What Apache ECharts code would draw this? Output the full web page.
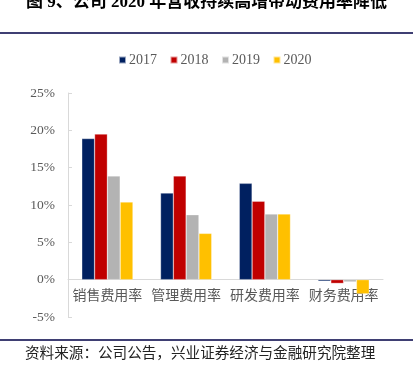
<!DOCTYPE html>
<html><head><meta charset="utf-8">
<script src="https://cdn.jsdelivr.net/npm/echarts@6/dist/echarts.min.js"></script>
<style>html,body{margin:0;padding:0;background:#fff}#c{width:413px;height:374px}</style>
</head><body><div id="c"></div>
<script>
const categories = ['销售费用率', '管理费用率', '研发费用率', '财务费用率'];
const years = ['2017', '2018', '2019', '2020'];
const v2017 = [18.9, 11.6, 12.9, -0.2];
const v2018 = [19.5, 13.9, 10.5, -0.5];
const v2019 = [13.9, 8.7, 8.8, -0.3];
const v2020 = [10.4, 6.2, 8.8, -1.9];
const colors = ['#002060', '#C00000', '#B3B3B3', '#FFC000'];
const titleText = '图 9、公司 2020 年营收持续高增带动费用率降低';
const sourceText = '资料来源：公司公告，兴业证券经济与金融研究院整理';

const serif = '"Liberation Serif", "Noto Sans CJK SC", serif';
const chart = echarts.init(document.getElementById('c'), null, {renderer: 'canvas'});
const vals = [v2017, v2018, v2019, v2020];
chart.setOption({
  animation: false,
  color: colors,
  legend: {
    left: 118, top: 53, padding: 0,
    itemWidth: 7, itemHeight: 7, itemGap: 12.5,
    icon: 'rect',
    textStyle: {fontFamily: serif, fontSize: 14, color: '#595959', padding: [0, 0, 0, -2]},
    data: years
  },
  grid: {left: 68, right: 30, top: 93, bottom: 57, containLabel: false},
  xAxis: {
    type: 'category', data: categories,
    axisLine: {onZero: true, lineStyle: {color: '#d9d9d9', width: 1}},
    axisTick: {show: false},
    axisLabel: {interval: 0, fontFamily: serif, fontSize: 14, color: '#595959', margin: -28}
  },
  yAxis: {
    type: 'value', min: -5, max: 25, interval: 5,
    axisLine: {show: true, lineStyle: {color: '#d9d9d9'}},
    axisTick: {show: true, inside: true, length: 4, lineStyle: {color: '#d9d9d9'}},
    splitLine: {show: false},
    axisLabel: {fontFamily: serif, fontSize: 13.5, color: '#595959', margin: 13, formatter: '{value}%'}
  },
  series: years.map((y, i) => ({
    name: y, type: 'bar', data: vals[i],
    barGap: '0%', barCategoryGap: '35%',
    itemStyle: {color: colors[i], borderColor: 'rgba(255,255,255,0.6)', borderWidth: 0.5}
  })),
  graphic: [
    {type: 'text', left: 'center', top: -6, style: {text: titleText, font: 'bold 17px ' + serif, fill: '#000'}},
    {type: 'rect', shape: {x: 0, y: 32, width: 413, height: 2}, style: {fill: '#3f3f73'}},
    {type: 'rect', shape: {x: 0, y: 339, width: 413, height: 2}, style: {fill: '#3f3f73'}},
    {type: 'text', x: 25, y: 345, style: {text: sourceText, font: '14.6px "Noto Sans CJK SC", serif', fill: '#222'}}
  ]
});
</script></body></html>
